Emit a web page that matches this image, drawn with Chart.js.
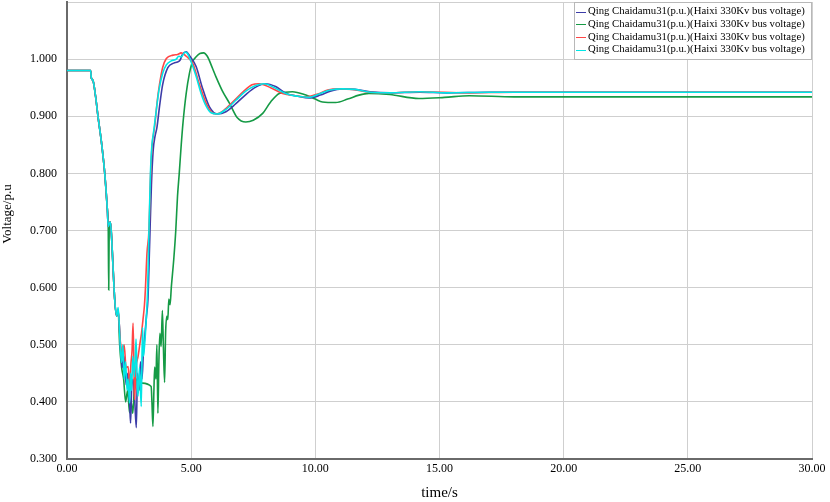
<!DOCTYPE html>
<html>
<head>
<meta charset="utf-8">
<script src="https://cdn.jsdelivr.net/npm/chart.js@4"></script>
<style>
  body { margin: 0; background: #fff; }
  #wrap { width: 830px; height: 502px; }
</style>
</head>
<body>
<div id="wrap"><canvas id="voltChart" width="830" height="502"></canvas></div>
<script>
const seriesName = 'Qing Chaidamu31(p.u.)(Haixi 330Kv bus voltage)';
const xTicks = [0, 5, 10, 15, 20, 25, 30];
const yTicks = [0.3, 0.4, 0.5, 0.6, 0.7, 0.8, 0.9, 1.0, 1.1];

// pre-fault and fall, shared by blue, red and cyan
const tStart = [0, 0.95, 0.98, 1.05, 1.15, 1.25, 1.4, 1.52, 1.62, 1.66, 1.70, 1.74, 1.78, 1.85, 1.92, 2.0];
const vStart = [0.980, 0.980, 0.967, 0.962, 0.935, 0.899, 0.85, 0.80, 0.74, 0.707, 0.712, 0.715, 0.700, 0.640, 0.58, 0.55];

const tBlue = [2.06, 2.15, 2.22, 2.3, 2.38, 2.45, 2.52, 2.56, 2.6, 2.66, 2.72, 2.79, 2.84, 2.9, 2.96, 3.02, 3.08, 3.13, 3.2, 3.26, 3.33, 3.4, 3.47, 3.55, 3.62, 3.72, 3.85, 4.06, 4.3, 4.45, 4.55, 4.65, 4.8, 4.95, 5.2, 5.45, 5.73, 6.06, 6.4, 6.8, 7.2, 7.6, 8.0, 8.4, 8.82, 9.3, 9.75, 10.2, 10.6, 11.08, 11.6, 12.2, 13, 14.2, 15.3, 17, 20, 30];
const vBlue = [0.56, 0.50, 0.46, 0.48, 0.43, 0.45, 0.40, 0.363, 0.42, 0.44, 0.41, 0.355, 0.45, 0.42, 0.47, 0.44, 0.49, 0.514, 0.55, 0.58, 0.68, 0.78, 0.84, 0.866, 0.88, 0.915, 0.955, 0.985, 0.993, 0.995, 0.998, 1.008, 1.013, 1.005, 0.987, 0.95, 0.917, 0.904, 0.908, 0.922, 0.938, 0.951, 0.957, 0.952, 0.940, 0.935, 0.932, 0.937, 0.944, 0.948, 0.947, 0.943, 0.941, 0.942, 0.941, 0.942, 0.942, 0.942];

// green has a short spike down during the fall
const tGreenStart = [0, 0.95, 0.98, 1.05, 1.15, 1.25, 1.4, 1.52, 1.62, 1.66, 1.68, 1.70, 1.74, 1.78, 1.85, 1.92, 2.0];
const vGreenStart = [0.980, 0.980, 0.967, 0.962, 0.935, 0.899, 0.85, 0.80, 0.74, 0.707, 0.596, 0.712, 0.715, 0.700, 0.640, 0.58, 0.55];

const tGreen = [2.06, 2.12, 2.2, 2.28, 2.36, 2.44, 2.52, 2.58, 2.65, 2.72, 2.8, 2.88, 2.95, 2.99, 3.39, 3.42, 3.46, 3.5, 3.53, 3.58, 3.62, 3.66, 3.7, 3.74, 3.79, 3.84, 3.88, 3.93, 3.97, 4.02, 4.06, 4.1, 4.15, 4.2, 4.3, 4.38, 4.45, 4.52, 4.6, 4.67, 4.8, 4.93, 5.05, 5.2, 5.35, 5.5, 5.65, 5.85, 6.0, 6.25, 6.54, 6.85, 7.2, 7.5, 7.88, 8.2, 8.55, 9.08, 9.62, 10.0, 10.29, 10.82, 11.3, 11.76, 12.16, 13, 14.17, 15.2, 16.2, 18, 20, 25, 30];
const vGreen = [0.56, 0.50, 0.46, 0.44, 0.40, 0.42, 0.381, 0.40, 0.38, 0.43, 0.44, 0.42, 0.435, 0.433, 0.427, 0.40, 0.357, 0.42, 0.461, 0.44, 0.50, 0.38, 0.47, 0.52, 0.497, 0.56, 0.50, 0.434, 0.52, 0.55, 0.544, 0.58, 0.57, 0.60, 0.65, 0.70, 0.76, 0.80, 0.85, 0.888, 0.94, 0.975, 0.995, 1.004, 1.01, 1.011, 1.005, 0.985, 0.969, 0.945, 0.923, 0.898, 0.890, 0.893, 0.905, 0.925, 0.94, 0.943, 0.937, 0.93, 0.925, 0.924, 0.93, 0.937, 0.94, 0.938, 0.931, 0.933, 0.936, 0.934, 0.934, 0.934, 0.934];

const tRed = [2.06, 2.14, 2.22, 2.3, 2.38, 2.46, 2.52, 2.58, 2.62, 2.66, 2.7, 2.72, 2.78, 2.86, 2.93, 3.0, 3.06, 3.12, 3.16, 3.22, 3.30, 3.37, 3.43, 3.53, 3.63, 3.73, 3.85, 4.0, 4.27, 4.45, 4.6, 4.8, 5.07, 5.3, 5.6, 5.8, 6.0, 6.3, 6.7, 7.1, 7.45, 7.74, 8.2, 8.68, 9.2, 9.62, 10.1, 10.5, 10.96, 11.5, 12.16, 13, 14.17, 16.2, 18, 20, 30];
const vRed = [0.56, 0.51, 0.48, 0.50, 0.46, 0.462, 0.43, 0.47, 0.49, 0.538, 0.45, 0.404, 0.46, 0.479, 0.50, 0.52, 0.544, 0.57, 0.60, 0.66, 0.70, 0.80, 0.85, 0.882, 0.925, 0.957, 0.985, 1.001, 1.007, 1.008, 1.011, 1.005, 0.992, 0.96, 0.923, 0.908, 0.904, 0.91, 0.926, 0.943, 0.955, 0.957, 0.950, 0.94, 0.936, 0.934, 0.939, 0.946, 0.948, 0.947, 0.942, 0.941, 0.943, 0.941, 0.942, 0.942, 0.942];

const tCyan = [2.06, 2.12, 2.19, 2.25, 2.3, 2.36, 2.42, 2.46, 2.52, 2.56, 2.6, 2.65, 2.72, 2.78, 2.83, 2.86, 2.92, 2.99, 3.04, 3.08, 3.12, 3.19, 3.25, 3.30, 3.36, 3.42, 3.48, 3.58, 3.7, 3.85, 4.0, 4.2, 4.4, 4.5, 4.6, 4.75, 4.85, 5.0, 5.2, 5.4, 5.6, 5.8, 6.05, 6.4, 6.8, 7.2, 7.6, 7.95, 8.3, 8.8, 9.3, 9.75, 10.2, 10.6, 11.1, 11.6, 12.2, 13, 14.2, 15.3, 17, 20, 25, 30];
const vCyan = [0.565, 0.52, 0.469, 0.50, 0.44, 0.47, 0.42, 0.44, 0.398, 0.45, 0.42, 0.48, 0.444, 0.51, 0.43, 0.41, 0.46, 0.392, 0.53, 0.48, 0.497, 0.544, 0.60, 0.70, 0.80, 0.85, 0.87, 0.905, 0.945, 0.975, 0.99, 0.997, 1.0, 1.005, 1.004, 1.012, 1.01, 0.995, 0.97, 0.94, 0.918, 0.906, 0.904, 0.912, 0.928, 0.944, 0.954, 0.957, 0.951, 0.940, 0.935, 0.933, 0.94, 0.946, 0.948, 0.947, 0.942, 0.941, 0.943, 0.941, 0.942, 0.942, 0.942, 0.942];

function pts(ts, vs) {
  return ts.map((t, i) => ({ x: t, y: vs[i] }));
}

const serif = '"Liberation Serif", "Times New Roman", serif';

// boxed legend in the top-right corner of the plot
const boxLegend = {
  id: 'boxLegend',
  afterDatasetsDraw(chart) {
    const c = chart.ctx;
    const right = chart.chartArea.right, left = 574, top = 2, rowH = 12.7;
    const textX = 588, textW = 217;
    c.save();
    c.fillStyle = '#fff';
    c.fillRect(left, top, right - left, 57);
    c.strokeStyle = '#b8b8b8';
    c.lineWidth = 1;
    c.strokeRect(left + 0.5, top + 0.5, right - left - 1, 57);
    c.font = '12px ' + serif;
    let size = 12 * textW / c.measureText(seriesName).width;
    c.font = size.toFixed(2) + 'px ' + serif;
    c.textBaseline = 'middle';
    chart.data.datasets.forEach((ds, i) => {
      const y = top + 9.5 + i * rowH;
      c.strokeStyle = ds.borderColor;
      c.lineWidth = 1;
      c.beginPath();
      c.moveTo(left + 2, Math.round(y) + 0.5);
      c.lineTo(left + 12, Math.round(y) + 0.5);
      c.stroke();
      c.fillStyle = '#000';
      c.fillText(ds.label, textX, y);
    });
    c.restore();
  }
};

// y axis title sits a little above the middle of the axis
const yTitle = {
  id: 'yTitle',
  afterDraw(chart) {
    const c = chart.ctx;
    c.save();
    c.translate(8, 214);
    c.rotate(-Math.PI / 2);
    c.font = '13px ' + serif;
    c.fillStyle = '#000';
    c.textAlign = 'center';
    c.textBaseline = 'middle';
    c.fillText('Voltage/p.u', 0, 0);
    c.restore();
  }
};

const ctx = document.getElementById('voltChart').getContext('2d');

new Chart(ctx, {
  type: 'line',
  data: {
    datasets: [{
      label: seriesName,
      data: pts(tStart, vStart).concat(pts(tBlue, vBlue)),
      borderColor: '#3c3ca8',
      order: 2
    }, {
      label: seriesName,
      data: pts(tGreenStart, vGreenStart).concat(pts(tGreen, vGreen)),
      borderColor: '#159a45',
      order: 3
    }, {
      label: seriesName,
      data: pts(tStart, vStart).concat(pts(tRed, vRed)),
      borderColor: '#ff4646',
      order: 1
    }, {
      label: seriesName,
      data: pts(tStart, vStart).concat(pts(tCyan, vCyan)),
      borderColor: '#00e6e6',
      order: 0
    }]
  },
  options: {
    responsive: false,
    animation: false,
    layout: { padding: { top: 2, right: 18, left: 0, bottom: 0 } },
    elements: {
      point: { radius: 0 },
      line: { borderWidth: 1.6, cubicInterpolationMode: 'monotone', fill: false }
    },
    plugins: {
      legend: { display: false },
      tooltip: { enabled: false }
    },
    scales: {
      x: {
        type: 'linear',
        min: 0,
        max: 30,
        afterBuildTicks: s => { s.ticks = xTicks.map(v => ({ value: v })); },
        afterFit: s => { s.height = 43; s.paddingLeft = 0; s.paddingRight = 0; },
        ticks: {
          callback: v => v.toFixed(2),
          color: '#000',
          font: { family: serif, size: 12 },
          padding: 3,
          maxRotation: 0
        },
        grid: { color: '#cfcfcf', drawTicks: false },
        border: { color: '#6a6a6a', width: 2 },
        title: {
          display: true,
          text: 'time/s',
          color: '#000',
          font: { family: serif, size: 15 },
          padding: { top: 2, bottom: 0 }
        }
      },
      y: {
        min: 0.3,
        max: 1.1,
        afterBuildTicks: s => { s.ticks = yTicks.map(v => ({ value: v })); },
        afterFit: s => { s.width = 67; s.paddingTop = 0; s.paddingBottom = 0; },
        ticks: {
          callback: v => (v > 1.05 ? '' : v.toFixed(3)),
          color: '#000',
          font: { family: serif, size: 12 },
          padding: 10
        },
        grid: { color: '#cfcfcf', drawTicks: false },
        border: { color: '#6a6a6a', width: 2 }
      }
    }
  },
  plugins: [boxLegend, yTitle]
});
</script>
</body>
</html>
